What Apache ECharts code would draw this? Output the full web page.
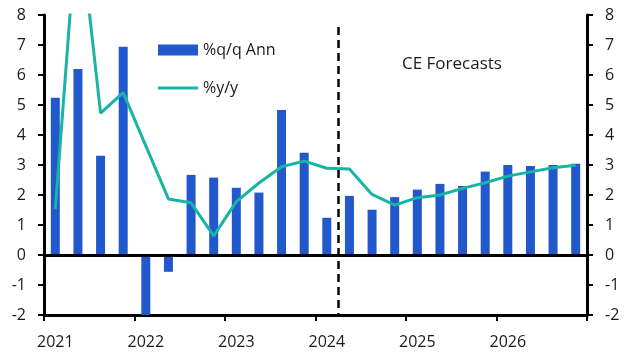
<!DOCTYPE html>
<html>
<head>
<meta charset="utf-8">
<script src="https://cdn.jsdelivr.net/npm/echarts@6/dist/echarts.min.js"></script>
<style>
html,body{margin:0;padding:0;background:#fff;}
#c{width:632px;height:357px;}
</style>
</head>
<body>
<div id="c"></div>
<script>
var categories = ['2021 Q1','2021 Q2','2021 Q3','2021 Q4','2022 Q1','2022 Q2','2022 Q3','2022 Q4','2023 Q1','2023 Q2','2023 Q3','2023 Q4','2024 Q1','2024 Q2','2024 Q3','2024 Q4','2025 Q1','2025 Q2','2025 Q3','2025 Q4','2026 Q1','2026 Q2','2026 Q3','2026 Q4'];
var yearLabels = ['2021','2022','2023','2024','2025','2026'];
var qqAnn = [5.24,6.2,3.31,6.94,-2.0,-0.56,2.67,2.58,2.24,2.08,4.83,3.41,1.24,1.97,1.51,1.93,2.18,2.37,2.3,2.78,3.0,2.97,3.0,3.04];
var yy = [1.53,11.5,4.73,5.41,3.64,1.87,1.74,0.64,1.78,2.4,2.94,3.13,2.89,2.87,2.02,1.66,1.91,2.0,2.22,2.41,2.63,2.77,2.91,2.99];
var forecastStart = 13;
var forecastLabel = 'CE Forecasts';

var FONT = 'Open Sans';
var chart = echarts.init(document.getElementById('c'), null, {renderer:'canvas'});
var grid = {left:44, right:45, top:15, bottom:42};
function yAxisCfg(pos){
  return {
    type:'value', position:pos, min:-2, max:8, interval:1,
    axisLine:{show:true, lineStyle:{color:'#000', width:3}},
    axisTick:{show:true, length:6, lineStyle:{color:'#000', width:2}},
    splitLine:{show:false},
    axisLabel:{color:'#1a1a1a', fontSize:16, fontFamily:FONT, margin:18}
  };
}
chart.setOption({
  animation:false,
  grid:grid,
  legend:{
    orient:'vertical', left:158, top:42, padding:0, itemWidth:40, itemHeight:11, itemGap:22,
    textStyle:{fontSize:16, fontFamily:FONT, color:'#1a1a1a'},
    data:[{name:'%q/q Ann', icon:'rect'},
          {name:'%y/y', icon:'path://M0,0 L40,0 L40,3 L0,3 Z'}]
  },
  xAxis:[{
    type:'category', data:categories, boundaryGap:true,
    axisLine:{onZero:false, lineStyle:{color:'#000', width:3}},
    axisTick:{show:true, interval:3, length:6, lineStyle:{color:'#000', width:2}},
    axisLabel:{interval:3, color:'#1a1a1a', fontSize:16, fontFamily:FONT, margin:19,
      formatter:function(v){return v.split(' ')[0];}}
  },{
    type:'value', min:0, max:categories.length, show:false
  }],
  yAxis:[yAxisCfg('left'), yAxisCfg('right')],
  graphic:[{
    type:'text', left:402, top:56,
    style:{text:forecastLabel, fontSize:17, fontFamily:FONT, fill:'#1a1a1a'}
  }],
  series:[{
    name:'%q/q Ann', type:'bar', data:qqAnn, barWidth:9,
    itemStyle:{color:'#2158CC'},
    markLine:{silent:true, symbol:'none', label:{show:false},
      lineStyle:{color:'#000', width:3, type:'solid'},
      data:[{yAxis:0}]}
  },{
    name:'%y/y', type:'line', data:yy, symbol:'none', clip:true,
    lineStyle:{color:'#18B4A4', width:3}, itemStyle:{color:'#18B4A4'}
  },{
    name:'forecast', type:'line', xAxisIndex:1, data:[], symbol:'none',
    markLine:{silent:true, symbol:'none', label:{show:false},
      lineStyle:{color:'#000', width:2.5, type:[8,5]},
      data:[[{coord:[forecastStart,7.6]},{coord:[forecastStart,-2]}]]}
  }]
});
</script>
</body>
</html>
